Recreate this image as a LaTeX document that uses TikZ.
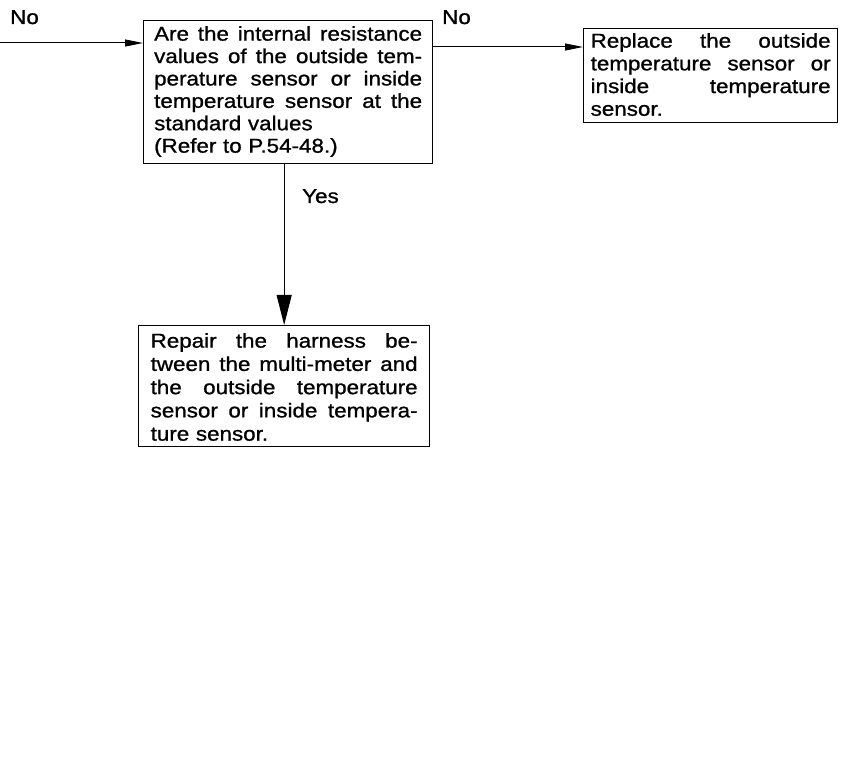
\documentclass[tikz,border=0pt]{standalone}
\usepackage{fontspec}
\setmainfont{Liberation Sans}[FakeStretch=1.12,FakeBold=1]
\usetikzlibrary{arrows.meta}
\newcommand\JL[1]{\hbox to\hsize{#1}}
\newcommand\LL[1]{\hbox to\hsize{#1\hfil}}
\newcommand\TS[1]{\rule{0pt}{#1}}
\newcommand\BS[1]{\rule[-#1]{0pt}{#1}}
\begin{document}
\begin{tikzpicture}[x=1pt,y=-1pt,
  box/.style={draw, line width=1.3pt, inner ysep=0pt, anchor=north west},
  lab/.style={font=\fontsize{20}{24}\selectfont, inner sep=0pt, anchor=base west},
  arr/.style={line width=1pt, -{Triangle[length=18pt,width=7pt]}},
  bigarr/.style={line width=1pt, -{Triangle[length=30pt,width=15pt]}}]
\useasboundingbox (0,0) rectangle (846,775);

\node[box, text width=268pt, inner xsep=10.5pt,
      font=\fontsize{20}{22.4}\selectfont] (b1) at (143,20) {%
\JL{\TS{20pt}Are\hfill the\hfill internal\hfill resistance}
\JL{values\hfill of\hfill the\hfill outside\hfill tem-}
\JL{perature\hfill sensor\hfill or\hfill inside}
\JL{temperature\hfill sensor\hfill at\hfill the}
\LL{standard values}
\LL{\BS{11pt}(Refer to P.54-48.)}};

\node[box, text width=240pt, inner xsep=7pt,
      font=\fontsize{20}{22.7}\selectfont] (b2) at (583,28) {%
\JL{\TS{19pt}Replace\hfill the\hfill outside}
\JL{temperature\hfill sensor\hfill or}
\JL{inside\hfill temperature}
\LL{\BS{7pt}sensor.}};

\node[box, text width=267pt, inner xsep=12pt,
      font=\fontsize{20}{23.25}\selectfont] (b3) at (138,325) {%
\JL{\TS{22pt}Repair\hfill the\hfill harness\hfill be-}
\JL{tween\hfill the\hfill multi-meter\hfill and}
\JL{the\hfill outside\hfill temperature}
\JL{sensor\hfill or\hfill inside\hfill tempera-}
\LL{\BS{6pt}ture sensor.}};

\coordinate (l0) at (0,43);
\draw[arr] (l0) -- (l0 -| b1.west);
\coordinate (r1) at ([yshift=-27pt]b1.north east);
\draw[arr] (r1) -- (r1 -| b2.west);
\draw[bigarr] (b1.south -| b3.north) -- (b3.north);

\node[lab] (no1) at (10,24) {No};
\node[lab] (no2) at (442,24) {No};
\node[lab] (yes) at (302,203) {Yes};
\end{tikzpicture}
\end{document}
